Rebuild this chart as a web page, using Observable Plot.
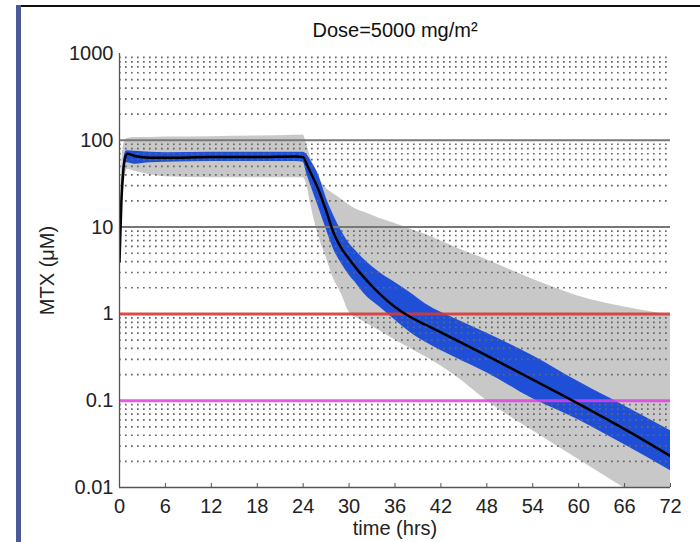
<!DOCTYPE html>
<html>
<head>
<meta charset="utf-8">
<script src="https://cdn.jsdelivr.net/npm/d3@7"></script>
<script src="https://cdn.jsdelivr.net/npm/@observablehq/plot@0.6"></script>
<style>
  body { margin: 0; background: #fff; }
  #wrap { position: relative; width: 700px; height: 542px; overflow: hidden; background: #fff; }
  #chart { position: absolute; left: 0; top: 0; }
  .deco { position: absolute; }
</style>
</head>
<body>
<div id="wrap">
  <div id="chart"></div>
  <div class="deco" style="left:16px;top:5px;width:684px;height:2px;background:#111;"></div>
  <div class="deco" style="left:16px;top:5px;width:5px;height:537px;background:#4b5a96;"></div>
</div>
<script>
const titleText = "Dose=5000 mg/m²";
const xLabel = "time (hrs)";
const yLabel = "MTX (μM)";

const xTicks = [0, 6, 12, 18, 24, 30, 36, 42, 48, 54, 60, 66, 72];
const yTicks = [0.01, 0.1, 1, 10, 100, 1000];
const yTickLabels = ["0.01", "0.1", "1", "10", "100", "1000"];
const minorGrid = [
  0.02, 0.03, 0.04, 0.05, 0.06, 0.07, 0.08, 0.09,
  0.2, 0.3, 0.4, 0.5, 0.6, 0.7, 0.8, 0.9,
  2, 3, 4, 5, 6, 7, 8, 9,
  20, 30, 40, 50, 60, 70, 80, 90,
  200, 300, 400, 500, 600, 700, 800, 900
];
const majorGrid = [10, 100];
const redLevel = [1];
const magentaLevel = [0.1];

// time (hrs)
const time =    [0,   0.25, 0.5, 0.8, 1,   2,   4,   6,   12,  18,  23,  24,  24.5, 25,  26,  27,   28,   29,   30,   31,   32,   34,   36,   38,   40,   44,   48,    54,    60,    66,    72];
// median concentration
const medianMTX = [4,  20,   45,  66,  70,  66,  63,  63,  64,  64,  65,  64,  52,   42,  27,  15.5, 8.5,  5.7,  4.3,  3.3,  2.6,  1.7,  1.2,  0.92, 0.75, 0.5,  0.33,  0.175, 0.092, 0.047, 0.023];
// inner (blue) band
const blueHi =  [4.5, 24,   52,  74,  76,  75,  73,  72,  73,  73,  73,  73,  68,   58,  40,  22,   13.5, 9,    6.5,  5.2,  4.2,  3.0,  2.3,  1.75, 1.3,  0.87, 0.6,   0.33,  0.165, 0.087, 0.045];
const blueLo =  [3.5, 16,   38,  55,  55,  53,  55,  56,  57,  57,  57,  56,  40,   30,  17,  9.5,  5.5,  3.8,  2.8,  2.2,  1.7,  1.2,  0.85, 0.61, 0.47, 0.31, 0.21,  0.105, 0.06,  0.031, 0.0156];
// outer (gray) band
const grayHi =  [5,   40,   85,  100, 105, 108, 108, 109, 110, 112, 114, 115, 87,   62,  37,  28,   24,   21,   18,   16,   14.8, 12.6, 11,   9.5,  8.2,  5.8,  4.2,   2.5,   1.6,   1.2,   0.97];
const grayLo =  [3,   10,   25,  40,  46,  44,  40,  38,  37,  37,  37,  37,  30,   18,  8,   4.5,  2.5,  1.7,  1.05, 0.9,  0.8,  0.64, 0.5,  0.4,  0.32, 0.19, 0.1,   0.045, 0.021, 0.0098, 0.0045];

const rows = time.map((t, i) => ({
  t, median: medianMTX[i], bHi: blueHi[i], bLo: blueLo[i], gHi: grayHi[i], gLo: grayLo[i]
}));

const font = "'Liberation Sans', Arial, Helvetica, sans-serif";

const chart = Plot.plot({
  width: 700,
  height: 542,
  marginLeft: 119,
  marginRight: 30,
  marginTop: 53,
  marginBottom: 55,
  style: { background: "transparent", fontFamily: font, fontSize: "20px", color: "#222" },
  x: { domain: [0, 72] },
  y: { type: "log", domain: [0.01, 1000] },
  marks: [
    Plot.areaY(rows, { x: "t", y1: "gLo", y2: "gHi", fill: "#c8c8c8", curve: "monotone-x", clip: true }),
    Plot.areaY(rows, { x: "t", y1: "bLo", y2: "bHi", fill: "#1f4fd6", curve: "monotone-x", clip: true }),
    Plot.ruleY(minorGrid, { stroke: "#666", strokeWidth: 1.7, strokeDasharray: "1.7,4.3" }),
    Plot.ruleY(majorGrid, { stroke: "#777", strokeWidth: 2 }),
    Plot.ruleY(redLevel, { stroke: "#d63a3a", strokeWidth: 3, strokeOpacity: 0.9 }),
    Plot.ruleY(magentaLevel, { stroke: "#e040e6", strokeWidth: 3, strokeOpacity: 0.85 }),
    Plot.line(rows, { x: "t", y: "median", stroke: "#000", strokeWidth: 2.5, curve: "monotone-x", clip: true }),
    Plot.ruleX([0], { stroke: "#555", strokeWidth: 1.3 }),
    Plot.ruleY([0.01], { stroke: "#555", strokeWidth: 1.3 }),
    Plot.axisX({ ticks: xTicks, tickSize: 4, dy: -4, tickFormat: () => "", label: null, stroke: "#555" }),
    Plot.axisX({ ticks: xTicks, tickSize: 0, tickPadding: 11, tickFormat: d => String(d), fontSize: 20, fill: "#222", label: null }),
    Plot.axisY({ ticks: yTicks, tickSize: 0, tickPadding: 6, tickFormat: d => yTickLabels[yTicks.indexOf(d)], fontSize: 20, fill: "#222", label: null }),
    Plot.text([titleText], { frameAnchor: "top", dy: -23, fontSize: 20, fill: "#111", lineAnchor: "middle", textAnchor: "middle" }),
    Plot.text([xLabel], { frameAnchor: "bottom", dy: 41, fontSize: 20, fill: "#222", lineAnchor: "middle", textAnchor: "middle" }),
    Plot.text([yLabel], { frameAnchor: "left", dx: -72, rotate: -90, fontSize: 20, fill: "#222", lineAnchor: "middle", textAnchor: "middle" })
  ]
});
document.getElementById("chart").appendChild(chart);
</script>
</body>
</html>
